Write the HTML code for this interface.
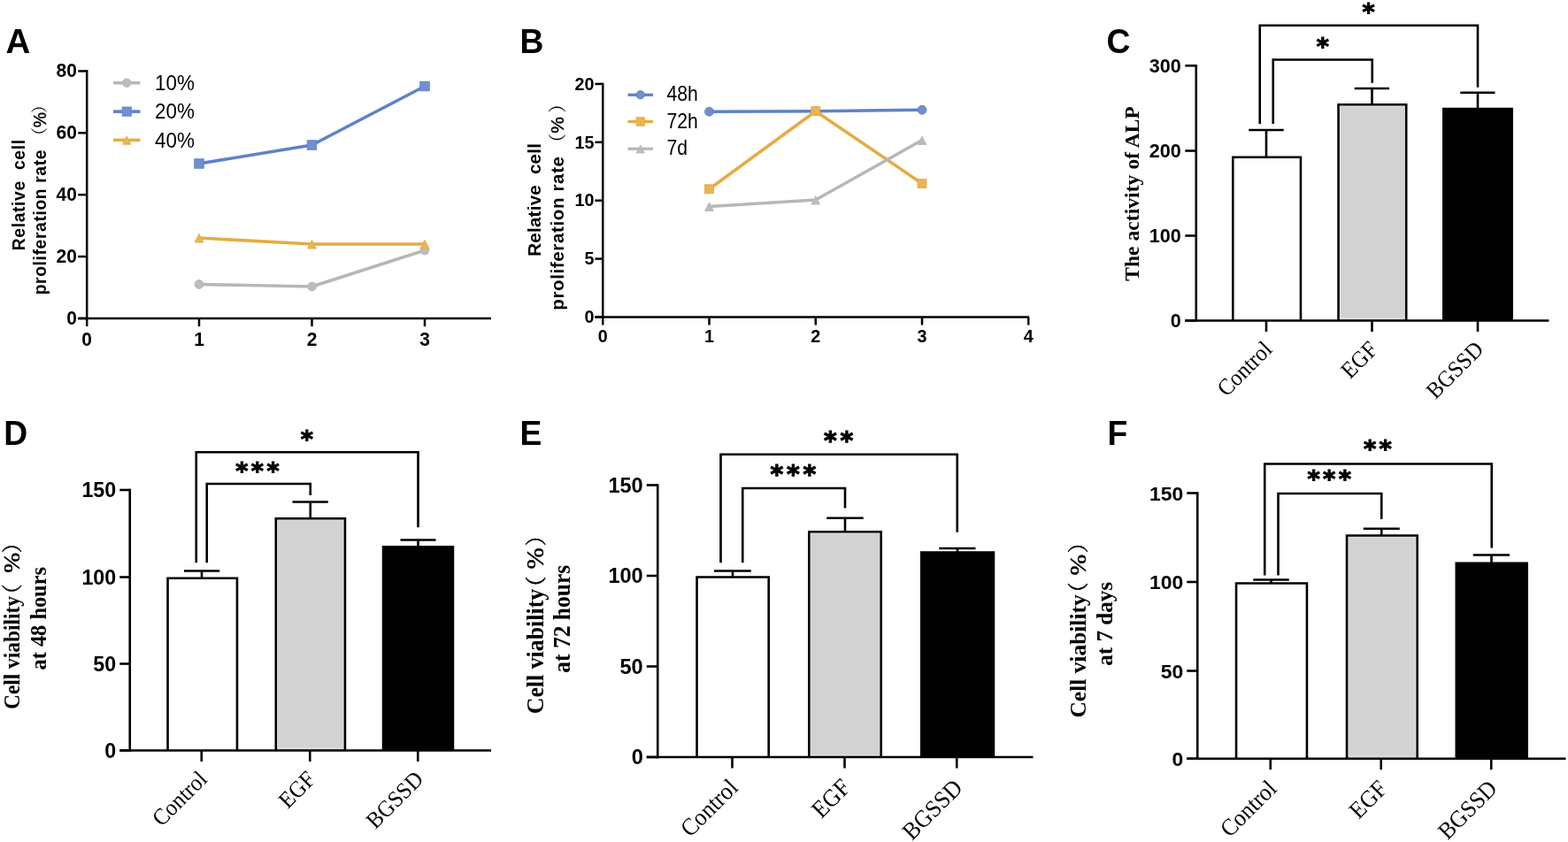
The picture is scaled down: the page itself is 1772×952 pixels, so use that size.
<!DOCTYPE html>
<html lang="en">
<head>
<meta charset="utf-8">
<title>Figure</title>
<style>
html,body{margin:0;padding:0;background:#fff;}
body{width:1772px;height:952px;overflow:hidden;}
svg{display:block;}
text{white-space:pre;}
</style>
</head>
<body>
<svg width="1772" height="952" viewBox="0 0 1772 952" role="img" aria-label="Figure panels A to F">
<rect x="0" y="0" width="1772" height="952" fill="#ffffff"/>
<text x="0" y="0" font-family='"Liberation Sans", Arial, Helvetica, sans-serif' font-size="38.5" font-weight="bold" text-anchor="start" fill="#000" transform="translate(6.6 60) scale(1 1.0)">A</text>
<line x1="98.2" y1="79.05" x2="98.2" y2="361.25" stroke="#000" stroke-width="2.5" stroke-linecap="butt"/>
<line x1="88.2" y1="360" x2="555" y2="360" stroke="#000" stroke-width="2.5" stroke-linecap="butt"/>
<line x1="88.2" y1="360" x2="98.2" y2="360" stroke="#000" stroke-width="2.5" stroke-linecap="butt"/>
<text x="0" y="0" font-family='"Liberation Sans", Arial, Helvetica, sans-serif' font-size="21" font-weight="bold" text-anchor="end" fill="#000" transform="translate(86.9 367.04) scale(1 1.05)">0</text>
<line x1="88.2" y1="290.1" x2="98.2" y2="290.1" stroke="#000" stroke-width="2.5" stroke-linecap="butt"/>
<text x="0" y="0" font-family='"Liberation Sans", Arial, Helvetica, sans-serif' font-size="21" font-weight="bold" text-anchor="end" fill="#000" transform="translate(86.9 297.14) scale(1 1.05)">20</text>
<line x1="88.2" y1="220.2" x2="98.2" y2="220.2" stroke="#000" stroke-width="2.5" stroke-linecap="butt"/>
<text x="0" y="0" font-family='"Liberation Sans", Arial, Helvetica, sans-serif' font-size="21" font-weight="bold" text-anchor="end" fill="#000" transform="translate(86.9 227.23) scale(1 1.05)">40</text>
<line x1="88.2" y1="150.3" x2="98.2" y2="150.3" stroke="#000" stroke-width="2.5" stroke-linecap="butt"/>
<text x="0" y="0" font-family='"Liberation Sans", Arial, Helvetica, sans-serif' font-size="21" font-weight="bold" text-anchor="end" fill="#000" transform="translate(86.9 157.34) scale(1 1.05)">60</text>
<line x1="88.2" y1="80.4" x2="98.2" y2="80.4" stroke="#000" stroke-width="2.5" stroke-linecap="butt"/>
<text x="0" y="0" font-family='"Liberation Sans", Arial, Helvetica, sans-serif' font-size="21" font-weight="bold" text-anchor="end" fill="#000" transform="translate(86.9 87.44) scale(1 1.05)">80</text>
<line x1="98.2" y1="360" x2="98.2" y2="369" stroke="#000" stroke-width="2.5" stroke-linecap="butt"/>
<text x="0" y="0" font-family='"Liberation Sans", Arial, Helvetica, sans-serif' font-size="21" font-weight="bold" text-anchor="middle" fill="#000" transform="translate(98.2 390.8) scale(1 1.05)">0</text>
<line x1="225" y1="360" x2="225" y2="369" stroke="#000" stroke-width="2.5" stroke-linecap="butt"/>
<text x="0" y="0" font-family='"Liberation Sans", Arial, Helvetica, sans-serif' font-size="21" font-weight="bold" text-anchor="middle" fill="#000" transform="translate(225 390.8) scale(1 1.05)">1</text>
<line x1="352.5" y1="360" x2="352.5" y2="369" stroke="#000" stroke-width="2.5" stroke-linecap="butt"/>
<text x="0" y="0" font-family='"Liberation Sans", Arial, Helvetica, sans-serif' font-size="21" font-weight="bold" text-anchor="middle" fill="#000" transform="translate(352.5 390.8) scale(1 1.05)">2</text>
<line x1="480" y1="360" x2="480" y2="369" stroke="#000" stroke-width="2.5" stroke-linecap="butt"/>
<text x="0" y="0" font-family='"Liberation Sans", Arial, Helvetica, sans-serif' font-size="21" font-weight="bold" text-anchor="middle" fill="#000" transform="translate(480 390.8) scale(1 1.05)">3</text>
<polyline points="225,321.5 352.5,323.95 480,283.0" fill="none" stroke="#b7b7b7" stroke-width="3.6" stroke-linejoin="round"/>
<circle cx="225" cy="321.5" r="4.95" fill="#bcbcbc" stroke="#b7b7b7" stroke-width="0.9" stroke-linejoin="miter"/>
<circle cx="352.5" cy="323.95" r="4.95" fill="#bcbcbc" stroke="#b7b7b7" stroke-width="0.9" stroke-linejoin="miter"/>
<circle cx="480" cy="283.0" r="4.95" fill="#bcbcbc" stroke="#b7b7b7" stroke-width="0.9" stroke-linejoin="miter"/>
<polyline points="225,185.0 352.5,164.0 480,97.5" fill="none" stroke="#5d82c9" stroke-width="3.6" stroke-linejoin="round"/>
<rect x="219.75" y="179.75" width="10.5" height="10.5" fill="#6f90cd" stroke="#5d82c9" stroke-width="0.9" stroke-linejoin="miter"/>
<rect x="347.25" y="158.75" width="10.5" height="10.5" fill="#6f90cd" stroke="#5d82c9" stroke-width="0.9" stroke-linejoin="miter"/>
<rect x="474.75" y="92.25" width="10.5" height="10.5" fill="#6f90cd" stroke="#5d82c9" stroke-width="0.9" stroke-linejoin="miter"/>
<polyline points="225,269.0 352.5,276.0 480,276.0" fill="none" stroke="#e6ab43" stroke-width="3.6" stroke-linejoin="round"/>
<polygon points="225,264.4 220.07,274.05 229.93,274.05" fill="#e9b552" stroke="#e6ab43" stroke-width="0.9" stroke-linejoin="miter"/>
<polygon points="352.5,271.4 347.57,281.05 357.43,281.05" fill="#e9b552" stroke="#e6ab43" stroke-width="0.9" stroke-linejoin="miter"/>
<polygon points="480,271.4 475.07,281.05 484.93,281.05" fill="#e9b552" stroke="#e6ab43" stroke-width="0.9" stroke-linejoin="miter"/>
<line x1="128" y1="93.7" x2="158.5" y2="93.7" stroke="#b7b7b7" stroke-width="3.6" stroke-linecap="butt"/>
<circle cx="143.25" cy="93.7" r="4.8" fill="#bcbcbc" stroke="#b7b7b7" stroke-width="0.9" stroke-linejoin="miter"/>
<text x="0" y="0" font-family='"Liberation Sans", Arial, Helvetica, sans-serif' font-size="22.4" font-weight="normal" text-anchor="start" fill="#000" transform="translate(175 102) scale(1 1.1)">10%</text>
<line x1="128" y1="126.1" x2="158.5" y2="126.1" stroke="#5d82c9" stroke-width="3.6" stroke-linecap="butt"/>
<rect x="138.2" y="121.05" width="10.1" height="10.1" fill="#6f90cd" stroke="#5d82c9" stroke-width="0.9" stroke-linejoin="miter"/>
<text x="0" y="0" font-family='"Liberation Sans", Arial, Helvetica, sans-serif' font-size="22.4" font-weight="normal" text-anchor="start" fill="#000" transform="translate(175 134.3) scale(1 1.1)">20%</text>
<line x1="128" y1="158.4" x2="158.5" y2="158.4" stroke="#e6ab43" stroke-width="3.6" stroke-linecap="butt"/>
<polygon points="143.25,154.05 138.59,163.2 147.91,163.2" fill="#e9b552" stroke="#e6ab43" stroke-width="0.9" stroke-linejoin="miter"/>
<text x="0" y="0" font-family='"Liberation Sans", Arial, Helvetica, sans-serif' font-size="22.4" font-weight="normal" text-anchor="start" fill="#000" transform="translate(175 166.5) scale(1 1.1)">40%</text>
<text transform="translate(27.6,0) rotate(-90)" font-family='"Liberation Sans", Arial, Helvetica, sans-serif' fill="#000"><tspan x="-283.3" y="0" font-size="19.3" font-weight="bold" textLength="125.3" lengthAdjust="spacing">Relative  cell</tspan></text>
<text transform="translate(51.5,0) rotate(-90)" font-family='"Liberation Sans", "Noto Serif CJK SC", Arial, sans-serif' fill="#000"><tspan x="-333.3" y="0" font-size="19.3" font-weight="bold" letter-spacing="0.62">proliferation rate </tspan><tspan x="-163" y="0" font-size="19" font-weight="normal">（</tspan><tspan x="-144.3" y="0" font-size="19.5" font-weight="normal" stroke="#000" stroke-width="0.4">%</tspan><tspan x="-128" y="0" font-size="19" font-weight="normal">）</tspan></text>
<text x="0" y="0" font-family='"Liberation Sans", Arial, Helvetica, sans-serif' font-size="37.3" font-weight="bold" text-anchor="start" fill="#000" transform="translate(587.5 60) scale(1 1.03)">B</text>
<line x1="681.25" y1="93.65" x2="681.25" y2="359.75" stroke="#000" stroke-width="2.5" stroke-linecap="butt"/>
<line x1="672.45" y1="358.5" x2="1163" y2="358.5" stroke="#000" stroke-width="2.5" stroke-linecap="butt"/>
<line x1="672.45" y1="358.5" x2="681.25" y2="358.5" stroke="#000" stroke-width="2.5" stroke-linecap="butt"/>
<text x="0" y="0" font-family='"Liberation Sans", Arial, Helvetica, sans-serif' font-size="19.8" font-weight="bold" text-anchor="end" fill="#000" transform="translate(671.45 365.23) scale(1 1.04)">0</text>
<line x1="672.45" y1="292.6" x2="681.25" y2="292.6" stroke="#000" stroke-width="2.5" stroke-linecap="butt"/>
<text x="0" y="0" font-family='"Liberation Sans", Arial, Helvetica, sans-serif' font-size="19.8" font-weight="bold" text-anchor="end" fill="#000" transform="translate(671.45 299.33) scale(1 1.04)">5</text>
<line x1="672.45" y1="226.7" x2="681.25" y2="226.7" stroke="#000" stroke-width="2.5" stroke-linecap="butt"/>
<text x="0" y="0" font-family='"Liberation Sans", Arial, Helvetica, sans-serif' font-size="19.8" font-weight="bold" text-anchor="end" fill="#000" transform="translate(671.45 233.43) scale(1 1.04)">10</text>
<line x1="672.45" y1="160.8" x2="681.25" y2="160.8" stroke="#000" stroke-width="2.5" stroke-linecap="butt"/>
<text x="0" y="0" font-family='"Liberation Sans", Arial, Helvetica, sans-serif' font-size="19.8" font-weight="bold" text-anchor="end" fill="#000" transform="translate(671.45 167.53) scale(1 1.04)">15</text>
<line x1="672.45" y1="94.9" x2="681.25" y2="94.9" stroke="#000" stroke-width="2.5" stroke-linecap="butt"/>
<text x="0" y="0" font-family='"Liberation Sans", Arial, Helvetica, sans-serif' font-size="19.8" font-weight="bold" text-anchor="end" fill="#000" transform="translate(671.45 101.63) scale(1 1.04)">20</text>
<line x1="681.25" y1="358.5" x2="681.25" y2="367.5" stroke="#000" stroke-width="2.5" stroke-linecap="butt"/>
<text x="0" y="0" font-family='"Liberation Sans", Arial, Helvetica, sans-serif' font-size="19.8" font-weight="bold" text-anchor="middle" fill="#000" transform="translate(681.25 387.3) scale(1 1.0)">0</text>
<line x1="801.5" y1="358.5" x2="801.5" y2="367.5" stroke="#000" stroke-width="2.5" stroke-linecap="butt"/>
<text x="0" y="0" font-family='"Liberation Sans", Arial, Helvetica, sans-serif' font-size="19.8" font-weight="bold" text-anchor="middle" fill="#000" transform="translate(801.5 387.3) scale(1 1.0)">1</text>
<line x1="921.75" y1="358.5" x2="921.75" y2="367.5" stroke="#000" stroke-width="2.5" stroke-linecap="butt"/>
<text x="0" y="0" font-family='"Liberation Sans", Arial, Helvetica, sans-serif' font-size="19.8" font-weight="bold" text-anchor="middle" fill="#000" transform="translate(921.75 387.3) scale(1 1.0)">2</text>
<line x1="1042" y1="358.5" x2="1042" y2="367.5" stroke="#000" stroke-width="2.5" stroke-linecap="butt"/>
<text x="0" y="0" font-family='"Liberation Sans", Arial, Helvetica, sans-serif' font-size="19.8" font-weight="bold" text-anchor="middle" fill="#000" transform="translate(1042 387.3) scale(1 1.0)">3</text>
<line x1="1162.25" y1="358.5" x2="1162.25" y2="367.5" stroke="#000" stroke-width="2.5" stroke-linecap="butt"/>
<text x="0" y="0" font-family='"Liberation Sans", Arial, Helvetica, sans-serif' font-size="19.8" font-weight="bold" text-anchor="middle" fill="#000" transform="translate(1162.25 387.3) scale(1 1.0)">4</text>
<polyline points="801.5,126.25 921.75,125.75 1042,124.25" fill="none" stroke="#5d82c9" stroke-width="3.5" stroke-linejoin="round"/>
<circle cx="801.5" cy="126.25" r="4.95" fill="#6f90cd" stroke="#5d82c9" stroke-width="0.9" stroke-linejoin="miter"/>
<circle cx="921.75" cy="125.75" r="4.95" fill="#6f90cd" stroke="#5d82c9" stroke-width="0.9" stroke-linejoin="miter"/>
<circle cx="1042" cy="124.25" r="4.95" fill="#6f90cd" stroke="#5d82c9" stroke-width="0.9" stroke-linejoin="miter"/>
<polyline points="801.5,213.75 921.75,125.75 1042,207.5" fill="none" stroke="#e6ab43" stroke-width="3.5" stroke-linejoin="round"/>
<rect x="796.55" y="208.8" width="9.9" height="9.9" fill="#e9b552" stroke="#e6ab43" stroke-width="0.9" stroke-linejoin="miter"/>
<rect x="916.8" y="120.8" width="9.9" height="9.9" fill="#e9b552" stroke="#e6ab43" stroke-width="0.9" stroke-linejoin="miter"/>
<rect x="1037.05" y="202.55" width="9.9" height="9.9" fill="#e9b552" stroke="#e6ab43" stroke-width="0.9" stroke-linejoin="miter"/>
<polyline points="801.5,233.5 921.75,226 1042,158.5" fill="none" stroke="#b7b7b7" stroke-width="3.5" stroke-linejoin="round"/>
<polygon points="801.5,229.0 796.68,238.45 806.32,238.45" fill="#bcbcbc" stroke="#b7b7b7" stroke-width="0.9" stroke-linejoin="miter"/>
<polygon points="921.75,221.5 916.93,230.95 926.57,230.95" fill="#bcbcbc" stroke="#b7b7b7" stroke-width="0.9" stroke-linejoin="miter"/>
<polygon points="1042,154.0 1037.18,163.45 1046.82,163.45" fill="#bcbcbc" stroke="#b7b7b7" stroke-width="0.9" stroke-linejoin="miter"/>
<line x1="709.5" y1="107.25" x2="738" y2="107.25" stroke="#5d82c9" stroke-width="3.3" stroke-linecap="butt"/>
<circle cx="723.75" cy="107.25" r="4.7" fill="#6f90cd" stroke="#5d82c9" stroke-width="0.9" stroke-linejoin="miter"/>
<text x="0" y="0" font-family='"Liberation Sans", Arial, Helvetica, sans-serif' font-size="21.2" font-weight="normal" text-anchor="start" fill="#000" transform="translate(753.5 114.2) scale(1 1.1)">48h</text>
<line x1="709.5" y1="137.5" x2="738" y2="137.5" stroke="#e6ab43" stroke-width="3.3" stroke-linecap="butt"/>
<rect x="719.05" y="132.8" width="9.4" height="9.4" fill="#e9b552" stroke="#e6ab43" stroke-width="0.9" stroke-linejoin="miter"/>
<text x="0" y="0" font-family='"Liberation Sans", Arial, Helvetica, sans-serif' font-size="21.2" font-weight="normal" text-anchor="start" fill="#000" transform="translate(753.5 144.7) scale(1 1.1)">72h</text>
<line x1="709.5" y1="168.25" x2="738" y2="168.25" stroke="#b7b7b7" stroke-width="3.3" stroke-linecap="butt"/>
<polygon points="723.75,164.0 719.19,172.95 728.31,172.95" fill="#bcbcbc" stroke="#b7b7b7" stroke-width="0.9" stroke-linejoin="miter"/>
<text x="0" y="0" font-family='"Liberation Sans", Arial, Helvetica, sans-serif' font-size="21.2" font-weight="normal" text-anchor="start" fill="#000" transform="translate(753.5 174.7) scale(1 1.1)">7d</text>
<text transform="translate(610.5,0) rotate(-90)" font-family='"Liberation Sans", Arial, Helvetica, sans-serif' fill="#000"><tspan x="-289.8" y="0" font-size="20.6" font-weight="bold" textLength="127.8" lengthAdjust="spacing">Relative  cell</tspan></text>
<text transform="translate(637,0) rotate(-90)" font-family='"Liberation Sans", "Noto Serif CJK SC", Arial, sans-serif' fill="#000"><tspan x="-350.8" y="0" font-size="20.6" font-weight="bold" letter-spacing="0.6">proliferation rate </tspan><tspan x="-171.5" y="0" font-size="20.5" font-weight="normal">（</tspan><tspan x="-150.8" y="0" font-size="21" font-weight="normal" stroke="#000" stroke-width="0.4">%</tspan><tspan x="-127.8" y="0" font-size="20.5" font-weight="normal">）</tspan></text>
<text x="0" y="0" font-family='"Liberation Sans", Arial, Helvetica, sans-serif' font-size="37.3" font-weight="bold" text-anchor="start" fill="#000" transform="translate(1250.5 60) scale(1 1.03)">C</text>
<rect x="1393.3" y="177.8" width="76.65" height="184.7" fill="#fff"/>
<polyline points="1393.3,362.5 1393.3,177.8 1469.95,177.8 1469.95,362.5" fill="none" stroke="#000" stroke-width="2.6" stroke-linejoin="miter"/>
<rect x="1512.55" y="118.3" width="76.65" height="244.2" fill="#d2d2d2"/>
<rect x="1514.35" y="120.1" width="73.05" height="239.8" fill="none" stroke="#e4e4e4" stroke-width="1"/>
<polyline points="1512.55,362.5 1512.55,118.3 1589.2,118.3 1589.2,362.5" fill="none" stroke="#000" stroke-width="2.6" stroke-linejoin="miter"/>
<rect x="1630" y="121.75" width="80" height="240.75" fill="#000"/>
<line x1="1431" y1="147" x2="1431" y2="177.5" stroke="#000" stroke-width="2.6" stroke-linecap="butt"/>
<line x1="1411.25" y1="147" x2="1450.75" y2="147" stroke="#000" stroke-width="2.6" stroke-linecap="butt"/>
<line x1="1550.5" y1="100" x2="1550.5" y2="118" stroke="#000" stroke-width="2.6" stroke-linecap="butt"/>
<line x1="1530.75" y1="100" x2="1570" y2="100" stroke="#000" stroke-width="2.6" stroke-linecap="butt"/>
<line x1="1670" y1="104.75" x2="1670" y2="122.75" stroke="#000" stroke-width="2.6" stroke-linecap="butt"/>
<line x1="1650.25" y1="104.75" x2="1689.5" y2="104.75" stroke="#000" stroke-width="2.6" stroke-linecap="butt"/>
<line x1="1351.75" y1="72.95" x2="1351.75" y2="363.8" stroke="#000" stroke-width="2.6" stroke-linecap="butt"/>
<line x1="1339.35" y1="362.5" x2="1750.5" y2="362.5" stroke="#000" stroke-width="2.6" stroke-linecap="butt"/>
<line x1="1339.35" y1="362.5" x2="1351.75" y2="362.5" stroke="#000" stroke-width="2.6" stroke-linecap="butt"/>
<text x="1334.85" y="370.17" font-family='"Liberation Sans", Arial, Helvetica, sans-serif' font-size="21.6" font-weight="bold" text-anchor="end" fill="#000">0</text>
<line x1="1339.35" y1="266.5" x2="1351.75" y2="266.5" stroke="#000" stroke-width="2.6" stroke-linecap="butt"/>
<text x="1334.85" y="274.17" font-family='"Liberation Sans", Arial, Helvetica, sans-serif' font-size="21.6" font-weight="bold" text-anchor="end" fill="#000">100</text>
<line x1="1339.35" y1="170.5" x2="1351.75" y2="170.5" stroke="#000" stroke-width="2.6" stroke-linecap="butt"/>
<text x="1334.85" y="178.17" font-family='"Liberation Sans", Arial, Helvetica, sans-serif' font-size="21.6" font-weight="bold" text-anchor="end" fill="#000">200</text>
<line x1="1339.35" y1="74.25" x2="1351.75" y2="74.25" stroke="#000" stroke-width="2.6" stroke-linecap="butt"/>
<text x="1334.85" y="81.92" font-family='"Liberation Sans", Arial, Helvetica, sans-serif' font-size="21.6" font-weight="bold" text-anchor="end" fill="#000">300</text>
<line x1="1431" y1="362.5" x2="1431" y2="375.0" stroke="#000" stroke-width="2.6" stroke-linecap="butt"/>
<line x1="1550.5" y1="362.5" x2="1550.5" y2="375.0" stroke="#000" stroke-width="2.6" stroke-linecap="butt"/>
<line x1="1670" y1="362.5" x2="1670" y2="375.0" stroke="#000" stroke-width="2.6" stroke-linecap="butt"/>
<polyline points="1423.75,140 1423.75,28.75 1670,28.75 1670,98.75" fill="none" stroke="#000" stroke-width="2.6" stroke-linejoin="miter"/>
<polyline points="1438.75,140 1438.75,67.5 1550.75,67.5 1550.75,93.75" fill="none" stroke="#000" stroke-width="2.6" stroke-linejoin="miter"/>
<text x="1539.55" y="23" font-family='"DejaVu Sans", "Liberation Sans", sans-serif' font-size="27" font-weight="bold" fill="#000" stroke="#000" stroke-width="1.1" stroke-linejoin="miter">*</text>
<text x="1487.75" y="62" font-family='"DejaVu Sans", "Liberation Sans", sans-serif' font-size="27" font-weight="bold" fill="#000" stroke="#000" stroke-width="1.1" stroke-linejoin="miter">*</text>
<text transform="translate(1439 396.5) rotate(-45)" x="-74.86" y="0" font-family='"Liberation Serif", "Times New Roman", Times, serif' font-size="26.2" textLength="74.86" lengthAdjust="spacingAndGlyphs" fill="#000">Control</text>
<text transform="translate(1558.5 396.5) rotate(-45)" x="-46.28" y="0" font-family='"Liberation Serif", "Times New Roman", Times, serif' font-size="26.2" textLength="46.28" lengthAdjust="spacingAndGlyphs" fill="#000">EGF</text>
<text transform="translate(1678 396.5) rotate(-45)" x="-78.97" y="0" font-family='"Liberation Serif", "Times New Roman", Times, serif' font-size="26.2" textLength="78.97" lengthAdjust="spacingAndGlyphs" fill="#000">BGSSD</text>
<text transform="translate(1287,0) rotate(-90)" font-family='"Liberation Serif", "Times New Roman", Times, serif' fill="#000"><tspan x="-317.8" y="0" font-size="23.4" font-weight="bold" textLength="197.6" lengthAdjust="spacing">The activity of ALP</tspan></text>
<text x="0" y="0" font-family='"Liberation Sans", Arial, Helvetica, sans-serif' font-size="37.3" font-weight="bold" text-anchor="start" fill="#000" transform="translate(4.2 503.4) scale(1 1.03)">D</text>
<rect x="189.55" y="653.8" width="78.4" height="194.7" fill="#fff"/>
<polyline points="189.55,848.5 189.55,653.8 267.95,653.8 267.95,848.5" fill="none" stroke="#000" stroke-width="2.6" stroke-linejoin="miter"/>
<rect x="311.8" y="586.3" width="78.15" height="262.2" fill="#d2d2d2"/>
<rect x="313.6" y="588.1" width="74.55" height="257.8" fill="none" stroke="#e4e4e4" stroke-width="1"/>
<polyline points="311.8,848.5 311.8,586.3 389.95,586.3 389.95,848.5" fill="none" stroke="#000" stroke-width="2.6" stroke-linejoin="miter"/>
<rect x="431.75" y="617" width="81.5" height="231.5" fill="#000"/>
<line x1="228" y1="645.5" x2="228" y2="653.5" stroke="#000" stroke-width="2.6" stroke-linecap="butt"/>
<line x1="208" y1="645.5" x2="248.25" y2="645.5" stroke="#000" stroke-width="2.6" stroke-linecap="butt"/>
<line x1="350.75" y1="567.5" x2="350.75" y2="586" stroke="#000" stroke-width="2.6" stroke-linecap="butt"/>
<line x1="330.5" y1="567.5" x2="370.75" y2="567.5" stroke="#000" stroke-width="2.6" stroke-linecap="butt"/>
<line x1="472.5" y1="610.5" x2="472.5" y2="618" stroke="#000" stroke-width="2.6" stroke-linecap="butt"/>
<line x1="452.5" y1="610.5" x2="492.5" y2="610.5" stroke="#000" stroke-width="2.6" stroke-linecap="butt"/>
<line x1="146.75" y1="552.7" x2="146.75" y2="849.8" stroke="#000" stroke-width="2.6" stroke-linecap="butt"/>
<line x1="135.25" y1="848.5" x2="555" y2="848.5" stroke="#000" stroke-width="2.6" stroke-linecap="butt"/>
<line x1="135.25" y1="848.5" x2="146.75" y2="848.5" stroke="#000" stroke-width="2.6" stroke-linecap="butt"/>
<text x="131.25" y="856.77" font-family='"Liberation Sans", Arial, Helvetica, sans-serif' font-size="23.3" font-weight="bold" text-anchor="end" fill="#000">0</text>
<line x1="135.25" y1="750.5" x2="146.75" y2="750.5" stroke="#000" stroke-width="2.6" stroke-linecap="butt"/>
<text x="131.25" y="758.77" font-family='"Liberation Sans", Arial, Helvetica, sans-serif' font-size="23.3" font-weight="bold" text-anchor="end" fill="#000">50</text>
<line x1="135.25" y1="652.5" x2="146.75" y2="652.5" stroke="#000" stroke-width="2.6" stroke-linecap="butt"/>
<text x="131.25" y="660.77" font-family='"Liberation Sans", Arial, Helvetica, sans-serif' font-size="23.3" font-weight="bold" text-anchor="end" fill="#000">100</text>
<line x1="135.25" y1="554" x2="146.75" y2="554" stroke="#000" stroke-width="2.6" stroke-linecap="butt"/>
<text x="131.25" y="562.27" font-family='"Liberation Sans", Arial, Helvetica, sans-serif' font-size="23.3" font-weight="bold" text-anchor="end" fill="#000">150</text>
<line x1="227.75" y1="848.5" x2="227.75" y2="861.0" stroke="#000" stroke-width="2.6" stroke-linecap="butt"/>
<line x1="350.25" y1="848.5" x2="350.25" y2="861.0" stroke="#000" stroke-width="2.6" stroke-linecap="butt"/>
<line x1="472.25" y1="848.5" x2="472.25" y2="861.0" stroke="#000" stroke-width="2.6" stroke-linecap="butt"/>
<polyline points="221.75,636.25 221.75,511.25 472.5,511.25 472.5,596.25" fill="none" stroke="#000" stroke-width="2.6" stroke-linejoin="miter"/>
<polyline points="233.75,636.25 233.75,547 350.75,547 350.75,560" fill="none" stroke="#000" stroke-width="2.6" stroke-linejoin="miter"/>
<text x="339.7" y="506.4" font-family='"DejaVu Sans", "Liberation Sans", sans-serif' font-size="27" font-weight="bold" fill="#000" stroke="#000" stroke-width="1.1" stroke-linejoin="miter">*</text>
<text x="266.25 283.85 301.45" y="542" font-family='"DejaVu Sans", "Liberation Sans", sans-serif' font-size="27" font-weight="bold" fill="#000" stroke="#000" stroke-width="1.1" stroke-linejoin="miter">***</text>
<text transform="translate(235.5 882.5) rotate(-45)" x="-74.86" y="0" font-family='"Liberation Serif", "Times New Roman", Times, serif' font-size="26.2" textLength="74.86" lengthAdjust="spacingAndGlyphs" fill="#000">Control</text>
<text transform="translate(358 882.5) rotate(-45)" x="-46.28" y="0" font-family='"Liberation Serif", "Times New Roman", Times, serif' font-size="26.2" textLength="46.28" lengthAdjust="spacingAndGlyphs" fill="#000">EGF</text>
<text transform="translate(480 882.5) rotate(-45)" x="-78.97" y="0" font-family='"Liberation Serif", "Times New Roman", Times, serif' font-size="26.2" textLength="78.97" lengthAdjust="spacingAndGlyphs" fill="#000">BGSSD</text>
<text transform="translate(22.2,0) rotate(-90)" font-family='"Liberation Serif", "Noto Serif CJK SC", "Times New Roman", serif' fill="#000"><tspan x="-802" y="0" font-size="25" font-weight="bold" textLength="128" lengthAdjust="spacingAndGlyphs">Cell viability</tspan><tspan x="-683.6" y="0" font-size="23" font-weight="normal" stroke="#000" stroke-width="0.5">（</tspan><tspan x="-647.8" y="0" font-size="25.3" font-weight="normal" textLength="22.9" lengthAdjust="spacingAndGlyphs" stroke="#000" stroke-width="0.5">%</tspan><tspan x="-625.2" y="0" font-size="23" font-weight="normal" stroke="#000" stroke-width="0.5">）</tspan></text>
<text transform="translate(51.7,0) rotate(-90)" font-family='"Liberation Serif", "Times New Roman", Times, serif' fill="#000"><tspan x="-757.5" y="0" font-size="25" font-weight="bold" textLength="116.5" lengthAdjust="spacingAndGlyphs">at 48 hours</tspan></text>
<text x="0" y="0" font-family='"Liberation Sans", Arial, Helvetica, sans-serif' font-size="37.3" font-weight="bold" text-anchor="start" fill="#000" transform="translate(587.5 503.4) scale(1 1.03)">E</text>
<rect x="787.55" y="652.55" width="81.15" height="203.45" fill="#fff"/>
<polyline points="787.55,856 787.55,652.55 868.7,652.55 868.7,856" fill="none" stroke="#000" stroke-width="2.6" stroke-linejoin="miter"/>
<rect x="914.3" y="601.3" width="81.4" height="254.7" fill="#d2d2d2"/>
<rect x="916.1" y="603.1" width="77.8" height="250.3" fill="none" stroke="#e4e4e4" stroke-width="1"/>
<polyline points="914.3,856 914.3,601.3 995.7,601.3 995.7,856" fill="none" stroke="#000" stroke-width="2.6" stroke-linejoin="miter"/>
<rect x="1040" y="623.25" width="84.25" height="232.75" fill="#000"/>
<line x1="828" y1="645.5" x2="828" y2="652.25" stroke="#000" stroke-width="2.6" stroke-linecap="butt"/>
<line x1="807" y1="645.5" x2="848.75" y2="645.5" stroke="#000" stroke-width="2.6" stroke-linecap="butt"/>
<line x1="955" y1="585.75" x2="955" y2="601" stroke="#000" stroke-width="2.6" stroke-linecap="butt"/>
<line x1="934.25" y1="585.75" x2="975.75" y2="585.75" stroke="#000" stroke-width="2.6" stroke-linecap="butt"/>
<line x1="1082" y1="620" x2="1082" y2="624.25" stroke="#000" stroke-width="2.6" stroke-linecap="butt"/>
<line x1="1061.25" y1="620" x2="1102.5" y2="620" stroke="#000" stroke-width="2.6" stroke-linecap="butt"/>
<line x1="743.25" y1="547.2" x2="743.25" y2="857.3" stroke="#000" stroke-width="2.6" stroke-linecap="butt"/>
<line x1="730.75" y1="856" x2="1167.5" y2="856" stroke="#000" stroke-width="2.6" stroke-linecap="butt"/>
<line x1="730.75" y1="856" x2="743.25" y2="856" stroke="#000" stroke-width="2.6" stroke-linecap="butt"/>
<text x="726.75" y="864.38" font-family='"Liberation Sans", Arial, Helvetica, sans-serif' font-size="23.6" font-weight="bold" text-anchor="end" fill="#000">0</text>
<line x1="730.75" y1="753.5" x2="743.25" y2="753.5" stroke="#000" stroke-width="2.6" stroke-linecap="butt"/>
<text x="726.75" y="761.88" font-family='"Liberation Sans", Arial, Helvetica, sans-serif' font-size="23.6" font-weight="bold" text-anchor="end" fill="#000">50</text>
<line x1="730.75" y1="651" x2="743.25" y2="651" stroke="#000" stroke-width="2.6" stroke-linecap="butt"/>
<text x="726.75" y="659.38" font-family='"Liberation Sans", Arial, Helvetica, sans-serif' font-size="23.6" font-weight="bold" text-anchor="end" fill="#000">100</text>
<line x1="730.75" y1="548.5" x2="743.25" y2="548.5" stroke="#000" stroke-width="2.6" stroke-linecap="butt"/>
<text x="726.75" y="556.88" font-family='"Liberation Sans", Arial, Helvetica, sans-serif' font-size="23.6" font-weight="bold" text-anchor="end" fill="#000">150</text>
<line x1="827.5" y1="856" x2="827.5" y2="868.5" stroke="#000" stroke-width="2.6" stroke-linecap="butt"/>
<line x1="954.5" y1="856" x2="954.5" y2="868.5" stroke="#000" stroke-width="2.6" stroke-linecap="butt"/>
<line x1="1081.25" y1="856" x2="1081.25" y2="868.5" stroke="#000" stroke-width="2.6" stroke-linecap="butt"/>
<polyline points="814.5,636.25 814.5,513.75 1081.75,513.75 1081.75,601.75" fill="none" stroke="#000" stroke-width="2.6" stroke-linejoin="miter"/>
<polyline points="839.25,636.25 839.25,552 955,552 955,574.5" fill="none" stroke="#000" stroke-width="2.6" stroke-linejoin="miter"/>
<text x="930.88 949.38" y="508.2" font-family='"DejaVu Sans", "Liberation Sans", sans-serif' font-size="28.2" font-weight="bold" fill="#000" stroke="#000" stroke-width="1.1" stroke-linejoin="miter">**</text>
<text x="870.38 888.88 907.38" y="546.2" font-family='"DejaVu Sans", "Liberation Sans", sans-serif' font-size="28.2" font-weight="bold" fill="#000" stroke="#000" stroke-width="1.1" stroke-linejoin="miter">***</text>
<text transform="translate(835.5 892) rotate(-45)" x="-78.57" y="0" font-family='"Liberation Serif", "Times New Roman", Times, serif' font-size="27.5" textLength="78.57" lengthAdjust="spacingAndGlyphs" fill="#000">Control</text>
<text transform="translate(962.5 892) rotate(-45)" x="-48.58" y="0" font-family='"Liberation Serif", "Times New Roman", Times, serif' font-size="27.5" textLength="48.58" lengthAdjust="spacingAndGlyphs" fill="#000">EGF</text>
<text transform="translate(1089.25 892.3) rotate(-45)" x="-82.89" y="0" font-family='"Liberation Serif", "Times New Roman", Times, serif' font-size="27.5" textLength="82.89" lengthAdjust="spacingAndGlyphs" fill="#000">BGSSD</text>
<text transform="translate(614,0) rotate(-90)" font-family='"Liberation Serif", "Noto Serif CJK SC", "Times New Roman", serif' fill="#000"><tspan x="-807.3" y="0" font-size="26.8" font-weight="bold" textLength="141.5" lengthAdjust="spacingAndGlyphs">Cell viability</tspan><tspan x="-675.7" y="0" font-size="24" font-weight="normal" stroke="#000" stroke-width="0.5">（</tspan><tspan x="-643.4" y="0" font-size="26.3" font-weight="normal" textLength="24.2" lengthAdjust="spacingAndGlyphs" stroke="#000" stroke-width="0.5">%</tspan><tspan x="-617.2" y="0" font-size="24" font-weight="normal" stroke="#000" stroke-width="0.5">）</tspan></text>
<text transform="translate(644.2,0) rotate(-90)" font-family='"Liberation Serif", "Times New Roman", Times, serif' fill="#000"><tspan x="-760.7" y="0" font-size="26.8" font-weight="bold" textLength="121.8" lengthAdjust="spacingAndGlyphs">at 72 hours</tspan></text>
<text x="0" y="0" font-family='"Liberation Sans", Arial, Helvetica, sans-serif' font-size="37.3" font-weight="bold" text-anchor="start" fill="#000" transform="translate(1251.5 503.4) scale(1 1.03)">F</text>
<rect x="1397.05" y="659.55" width="79.9" height="198.2" fill="#fff"/>
<polyline points="1397.05,857.75 1397.05,659.55 1476.95,659.55 1476.95,857.75" fill="none" stroke="#000" stroke-width="2.6" stroke-linejoin="miter"/>
<rect x="1522.05" y="605.55" width="79.65" height="252.2" fill="#d2d2d2"/>
<rect x="1523.85" y="607.35" width="76.05" height="247.8" fill="none" stroke="#e4e4e4" stroke-width="1"/>
<polyline points="1522.05,857.75 1522.05,605.55 1601.7,605.55 1601.7,857.75" fill="none" stroke="#000" stroke-width="2.6" stroke-linejoin="miter"/>
<rect x="1644.5" y="635.5" width="82.5" height="222.25" fill="#000"/>
<line x1="1436.5" y1="655.5" x2="1436.5" y2="659.25" stroke="#000" stroke-width="2.6" stroke-linecap="butt"/>
<line x1="1416.25" y1="655.5" x2="1456.75" y2="655.5" stroke="#000" stroke-width="2.6" stroke-linecap="butt"/>
<line x1="1561.25" y1="597.75" x2="1561.25" y2="605.25" stroke="#000" stroke-width="2.6" stroke-linecap="butt"/>
<line x1="1540.75" y1="597.75" x2="1581.75" y2="597.75" stroke="#000" stroke-width="2.6" stroke-linecap="butt"/>
<line x1="1685.5" y1="627.5" x2="1685.5" y2="636.5" stroke="#000" stroke-width="2.6" stroke-linecap="butt"/>
<line x1="1664.75" y1="627.5" x2="1706" y2="627.5" stroke="#000" stroke-width="2.6" stroke-linecap="butt"/>
<line x1="1353.25" y1="556.2" x2="1353.25" y2="859.05" stroke="#000" stroke-width="2.6" stroke-linecap="butt"/>
<line x1="1341.25" y1="857.75" x2="1769.5" y2="857.75" stroke="#000" stroke-width="2.6" stroke-linecap="butt"/>
<line x1="1341.25" y1="857.75" x2="1353.25" y2="857.75" stroke="#000" stroke-width="2.6" stroke-linecap="butt"/>
<text x="1337.25" y="865.88" font-family='"Liberation Sans", Arial, Helvetica, sans-serif' font-size="22.9" font-weight="bold" text-anchor="end" fill="#000">0</text>
<line x1="1341.25" y1="758.5" x2="1353.25" y2="758.5" stroke="#000" stroke-width="2.6" stroke-linecap="butt"/>
<text x="1337.25" y="766.63" font-family='"Liberation Sans", Arial, Helvetica, sans-serif' font-size="22.9" font-weight="bold" text-anchor="end" fill="#000">50</text>
<line x1="1341.25" y1="658" x2="1353.25" y2="658" stroke="#000" stroke-width="2.6" stroke-linecap="butt"/>
<text x="1337.25" y="666.13" font-family='"Liberation Sans", Arial, Helvetica, sans-serif' font-size="22.9" font-weight="bold" text-anchor="end" fill="#000">100</text>
<line x1="1341.25" y1="557.5" x2="1353.25" y2="557.5" stroke="#000" stroke-width="2.6" stroke-linecap="butt"/>
<text x="1337.25" y="565.63" font-family='"Liberation Sans", Arial, Helvetica, sans-serif' font-size="22.9" font-weight="bold" text-anchor="end" fill="#000">150</text>
<line x1="1435.75" y1="857.75" x2="1435.75" y2="870.25" stroke="#000" stroke-width="2.6" stroke-linecap="butt"/>
<line x1="1560.75" y1="857.75" x2="1560.75" y2="870.25" stroke="#000" stroke-width="2.6" stroke-linecap="butt"/>
<line x1="1685.25" y1="857.75" x2="1685.25" y2="870.25" stroke="#000" stroke-width="2.6" stroke-linecap="butt"/>
<polyline points="1429.25,650.5 1429.25,524.5 1685.75,524.5 1685.75,619.5" fill="none" stroke="#000" stroke-width="2.6" stroke-linejoin="miter"/>
<polyline points="1444.5,650.5 1444.5,558 1561.25,558 1561.25,587" fill="none" stroke="#000" stroke-width="2.6" stroke-linejoin="miter"/>
<text x="1541.02 1558.52" y="517.4" font-family='"DejaVu Sans", "Liberation Sans", sans-serif' font-size="27.3" font-weight="bold" fill="#000" stroke="#000" stroke-width="1.1" stroke-linejoin="miter">**</text>
<text x="1477.52 1495.12 1512.72" y="551.1" font-family='"DejaVu Sans", "Liberation Sans", sans-serif' font-size="27.3" font-weight="bold" fill="#000" stroke="#000" stroke-width="1.1" stroke-linejoin="miter">***</text>
<text transform="translate(1444.25 893.25) rotate(-45)" x="-77.14" y="0" font-family='"Liberation Serif", "Times New Roman", Times, serif' font-size="27" textLength="77.14" lengthAdjust="spacingAndGlyphs" fill="#000">Control</text>
<text transform="translate(1569.25 893.25) rotate(-45)" x="-47.69" y="0" font-family='"Liberation Serif", "Times New Roman", Times, serif' font-size="27" textLength="47.69" lengthAdjust="spacingAndGlyphs" fill="#000">EGF</text>
<text transform="translate(1693.5 893) rotate(-45)" x="-81.38" y="0" font-family='"Liberation Serif", "Times New Roman", Times, serif' font-size="27" textLength="81.38" lengthAdjust="spacingAndGlyphs" fill="#000">BGSSD</text>
<text transform="translate(1226.5,0) rotate(-90)" font-family='"Liberation Serif", "Noto Serif CJK SC", "Times New Roman", serif' fill="#000"><tspan x="-811.5" y="0" font-size="26" font-weight="bold" textLength="139.2" lengthAdjust="spacingAndGlyphs">Cell viability</tspan><tspan x="-682" y="0" font-size="23.5" font-weight="normal" stroke="#000" stroke-width="0.5">（</tspan><tspan x="-650.4" y="0" font-size="25.8" font-weight="normal" textLength="23.7" lengthAdjust="spacingAndGlyphs" stroke="#000" stroke-width="0.5">%</tspan><tspan x="-625.2" y="0" font-size="23.5" font-weight="normal" stroke="#000" stroke-width="0.5">）</tspan></text>
<text transform="translate(1256.8,0) rotate(-90)" font-family='"Liberation Serif", "Times New Roman", Times, serif' fill="#000"><tspan x="-752.7" y="0" font-size="26" font-weight="bold" textLength="94.8" lengthAdjust="spacingAndGlyphs">at 7 days</tspan></text>
</svg>
</body>
</html>
